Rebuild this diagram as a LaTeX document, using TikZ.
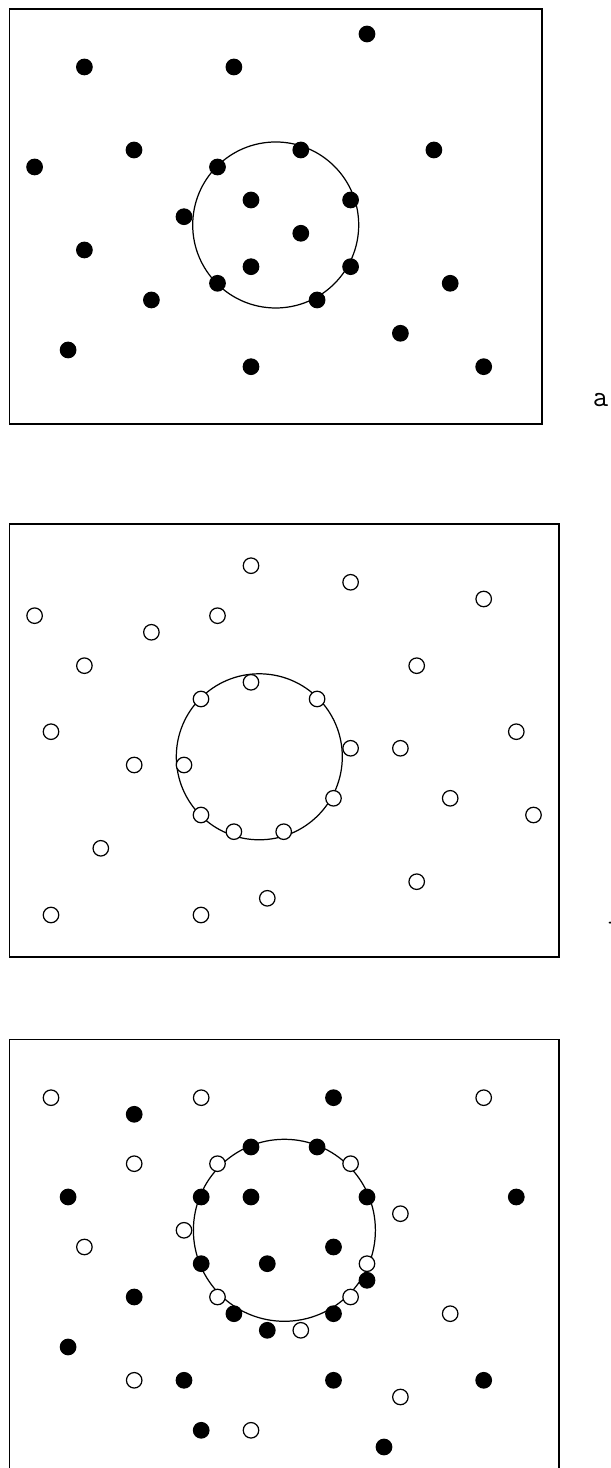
\documentclass[tikz,border=0pt]{standalone}
\usepackage{tikz}
\usepackage{xcolor}

\begin{document}
\begin{tikzpicture}[line cap=round,
  fdot/.style={circle,draw=black,fill=black,line width=0.7pt,minimum size=0.31cm,inner sep=0pt},
  odot/.style={circle,draw=black,fill=white,line width=0.7pt,minimum size=0.31cm,inner sep=0pt},
  panel/.style={line width=0.85pt},
  ring/.style={line width=0.7pt},
  tag/.style={font=\ttfamily\fontsize{17}{17}\selectfont,inner sep=0pt}]
\useasboundingbox (0,0) rectangle (12.2,29.36);
% panel a
\draw[panel] (0.186,20.88) rectangle (10.84,29.18);
\draw[ring] (5.514,24.86) circle (1.66);
\node[fdot] (a1) at (7.34,28.68) {};
\node[fdot] (a2) at (1.688,28.02) {};
\node[fdot] (a3) at (4.678,28.02) {};
\node[fdot] (a4) at (2.68,26.36) {};
\node[fdot] (a5) at (6.016,26.36) {};
\node[fdot] (a6) at (8.678,26.36) {};
\node[fdot] (a7) at (0.692,26.02) {};
\node[fdot] (a8) at (4.35,26.02) {};
\node[fdot] (a9) at (5.02,25.36) {};
\node[fdot] (a10) at (7.012,25.36) {};
\node[fdot] (a11) at (3.68,25.026) {};
\node[fdot] (a12) at (6.016,24.694) {};
\node[fdot] (a13) at (1.688,24.36) {};
\node[fdot] (a14) at (5.02,24.026) {};
\node[fdot] (a15) at (7.012,24.026) {};
\node[fdot] (a16) at (9.004,23.694) {};
\node[fdot] (a17) at (4.35,23.694) {};
\node[fdot] (a18) at (3.028,23.36) {};
\node[fdot] (a19) at (6.342,23.36) {};
\node[fdot] (a20) at (8.008,22.694) {};
\node[fdot] (a21) at (1.362,22.36) {};
\node[fdot] (a22) at (5.02,22.026) {};
\node[fdot] (a23) at (9.674,22.026) {};
\node[tag] (la) at (12.01,21.36) {a};
% panel b
\draw[panel] (0.186,10.22) rectangle (11.176,18.88);
\draw[ring] (5.186,14.224) circle (1.66);
\node[odot] (b1) at (5.02,18.046) {};
\node[odot] (b2) at (7.012,17.714) {};
\node[odot] (b3) at (9.674,17.38) {};
\node[odot] (b4) at (0.692,17.046) {};
\node[odot] (b5) at (4.35,17.046) {};
\node[odot] (b6) at (3.028,16.714) {};
\node[odot] (b7) at (1.688,16.046) {};
\node[odot] (b8) at (8.334,16.046) {};
\node[odot] (b9) at (5.02,15.714) {};
\node[odot] (b10) at (4.02,15.38) {};
\node[odot] (b11) at (6.342,15.38) {};
\node[odot] (b12) at (1.02,14.726) {};
\node[odot] (b13) at (10.326,14.726) {};
\node[odot] (b14) at (7.012,14.394) {};
\node[odot] (b15) at (8.008,14.394) {};
\node[odot] (b16) at (2.684,14.06) {};
\node[odot] (b17) at (3.68,14.06) {};
\node[odot] (b18) at (9.004,13.394) {};
\node[odot] (b19) at (6.67,13.394) {};
\node[odot] (b20) at (10.67,13.06) {};
\node[odot] (b21) at (4.02,13.06) {};
\node[odot] (b22) at (4.678,12.726) {};
\node[odot] (b23) at (5.674,12.726) {};
\node[odot] (b24) at (2.016,12.394) {};
\node[odot] (b25) at (8.334,11.726) {};
\node[odot] (b26) at (5.346,11.394) {};
\node[odot] (b27) at (1.02,11.06) {};
\node[odot] (b28) at (4.02,11.06) {};
\node[tag] (lb) at (12.32,10.74) {b};
% panel c (bottom edge lies below the page)
\draw[panel] (0.186,-0.2) -- (0.186,8.574) -- (11.176,8.574) -- (11.176,-0.2);
\draw[ring] (5.688,4.754) circle (1.82);
\node[odot] (c1) at (1.02,7.406) {};
\node[odot] (c2) at (4.024,7.406) {};
\node[odot] (c3) at (9.674,7.406) {};
\node[odot] (c4) at (2.684,6.086) {};
\node[odot] (c5) at (4.35,6.086) {};
\node[odot] (c6) at (7.012,6.086) {};
\node[odot] (c7) at (8.008,5.086) {};
\node[odot] (c8) at (3.68,4.754) {};
\node[odot] (c9) at (1.688,4.42) {};
\node[odot] (c10) at (7.34,4.086) {};
\node[odot] (c11) at (4.35,3.42) {};
\node[odot] (c12) at (7.012,3.42) {};
\node[odot] (c13) at (9.004,3.086) {};
\node[odot] (c14) at (6.016,2.754) {};
\node[odot] (c15) at (2.684,1.754) {};
\node[odot] (c16) at (8.008,1.42) {};
\node[odot] (c17) at (5.02,0.754) {};
\node[fdot] (c18) at (6.67,7.406) {};
\node[fdot] (c19) at (2.684,7.074) {};
\node[fdot] (c20) at (5.02,6.42) {};
\node[fdot] (c21) at (6.342,6.42) {};
\node[fdot] (c22) at (1.362,5.42) {};
\node[fdot] (c23) at (4.024,5.42) {};
\node[fdot] (c24) at (5.02,5.42) {};
\node[fdot] (c25) at (7.34,5.42) {};
\node[fdot] (c26) at (10.326,5.42) {};
\node[fdot] (c27) at (6.67,4.42) {};
\node[fdot] (c28) at (4.024,4.086) {};
\node[fdot] (c29) at (5.346,4.086) {};
\node[fdot] (c30) at (7.34,3.754) {};
\node[fdot] (c31) at (2.684,3.42) {};
\node[fdot] (c32) at (4.678,3.086) {};
\node[fdot] (c33) at (6.67,3.086) {};
\node[fdot] (c34) at (5.346,2.754) {};
\node[fdot] (c35) at (1.362,2.42) {};
\node[fdot] (c36) at (3.68,1.754) {};
\node[fdot] (c37) at (6.67,1.754) {};
\node[fdot] (c38) at (9.674,1.754) {};
\node[fdot] (c39) at (4.024,0.754) {};
\node[fdot] (c40) at (7.68,0.42) {};
\end{tikzpicture}
\end{document}
